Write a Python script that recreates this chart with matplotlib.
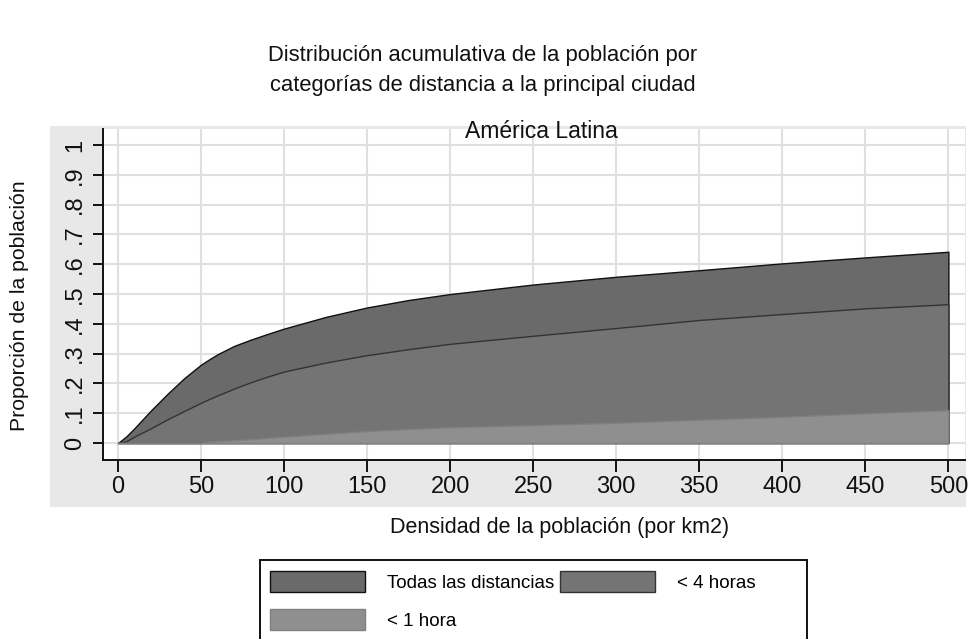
import numpy as np
import matplotlib
matplotlib.use("Agg")
import matplotlib.pyplot as plt
from matplotlib.patches import Rectangle, Patch

plt.rcParams["font.family"] = ["Liberation Sans", "DejaVu Sans"]

# densidad de la poblacion (por km2) y proporcion acumulada de la poblacion
densidad = [0, 5, 10, 20, 30, 40, 50, 55, 60, 70, 80, 90, 100, 125, 150, 175,
            200, 250, 300, 350, 400, 450, 500]
todas = [0, 0.022, 0.05, 0.11, 0.166, 0.218, 0.263, 0.281, 0.298, 0.326,
         0.347, 0.366, 0.384, 0.423, 0.455, 0.48, 0.5, 0.532, 0.558, 0.58,
         0.603, 0.623, 0.642]
horas4 = [0, 0.006, 0.022, 0.05, 0.08, 0.108, 0.135, 0.148, 0.16, 0.183,
          0.204, 0.223, 0.24, 0.27, 0.295, 0.315, 0.333, 0.36, 0.386, 0.413,
          0.433, 0.452, 0.466]
hora1 = [0, 0, 0, 0, 0, 0, 0, 0.004, 0.006, 0.009, 0.013, 0.017, 0.021, 0.031,
         0.04, 0.047, 0.053, 0.06, 0.068, 0.078, 0.088, 0.1, 0.11]

series = ["Todas las distancias", "< 4 horas", "< 1 hora"]
yticks = [0, 0.1, 0.2, 0.3, 0.4, 0.5, 0.6, 0.7, 0.8, 0.9, 1]
ylabels = ["0", ".1", ".2", ".3", ".4", ".5", ".6", ".7", ".8", ".9", "1"]
xticks = list(range(0, 501, 50))

fill_colors = ["#6a6a6a", "#747474", "#8f8f8f"]
edge_colors = ["#111111", "#333333", "#808080"]

W, H = 968, 639
fig = plt.figure(figsize=(W / 100, H / 100), dpi=100)

# gray panel behind the plot
fig.patches.append(Rectangle((50 / W, 1 - 507 / H), 916 / W, 381 / H,
                             transform=fig.transFigure, facecolor="#e8e8e8",
                             edgecolor="none", zorder=-5))

ax = fig.add_axes([103 / W, 1 - 460 / H, 862 / W, 331 / H])
ax.set_facecolor("white")

for vals, fc, ec in zip([todas, horas4, hora1], fill_colors, edge_colors):
    ax.fill_between(densidad, 0, vals, facecolor=fc, edgecolor=ec,
                    linewidth=1.0, zorder=3)

ax.set_xlim(-9, 510)
ax.set_ylim(-0.057, 1.054)
ax.set_xticks(xticks)
ax.set_xticklabels([str(t) for t in xticks], fontsize=17)
ax.set_yticks(yticks)
ax.set_yticklabels(ylabels, fontsize=17, rotation=90, va="center")
ax.grid(True, color="#e0e0e0", linewidth=1.5, zorder=0)
ax.set_axisbelow(True)
for s in ["top", "right"]:
    ax.spines[s].set_visible(False)
for s in ["left", "bottom"]:
    ax.spines[s].set_linewidth(1.4)
    ax.spines[s].set_color("#111111")
ax.tick_params(axis="x", length=8.5, width=1.4, pad=3, colors="#111111")
ax.tick_params(axis="y", length=7, width=1.4, pad=5, colors="#111111")

# titles and axis labels
fig.text(483 / W, 1 - 55 / H, "Distribución acumulativa de la población por",
         ha="center", va="center", fontsize=15.8, color="#111111")
fig.text(483 / W, 1 - 85 / H, "categorías de distancia a la principal ciudad",
         ha="center", va="center", fontsize=15.8, color="#111111")
fig.text(541 / W, 1 - 131 / H, "América Latina", ha="center", va="center",
         fontsize=16.5, color="#111111")
fig.text(560 / W, 1 - 528 / H, "Densidad de la población (por km2)",
         ha="center", va="center", fontsize=15.5, color="#111111")
fig.text(20 / W, 1 - 306 / H, "Proporción de la población", rotation=90,
         ha="center", va="center", fontsize=15.3, color="#111111")

# legend with its own frame (bottom cut off by the image edge)
fig.patches.append(Rectangle((260 / W, 1 - 650 / H), 547 / W, 90 / H,
                             transform=fig.transFigure, facecolor="white",
                             edgecolor="#111111", linewidth=1.4, zorder=1))
handles = [Patch(facecolor=fc, edgecolor=ec, linewidth=1.0)
           for fc, ec in zip(fill_colors, edge_colors)]
# legend fills column by column, so reorder to get rows like the original
order = [0, 2, 1]
fig.legend([handles[i] for i in order], [series[i] for i in order],
           loc="upper left", bbox_to_anchor=(270 / W, 1 - 571 / H), ncol=2,
           frameon=False, fontsize=13.5, handlelength=5.07, handleheight=1.33,
           handletextpad=1.17, columnspacing=0.3, labelspacing=0.92,
           borderpad=0, borderaxespad=0)

fig.savefig("out.png", dpi=100)
